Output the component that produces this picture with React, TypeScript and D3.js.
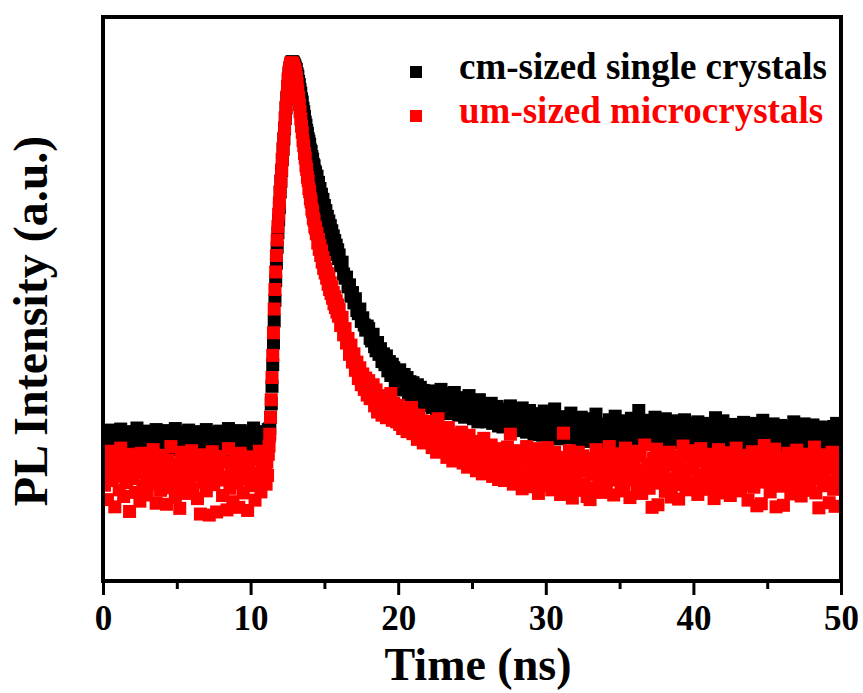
import React, { useRef, useEffect } from 'react'
import * as d3 from 'd3'

// PL decay traces, intensity in a.u. (peak ~1000)
// sampled every 0.1 ns before the pulse (0-10.9 ns), every 0.05 ns around it
// (11-15.95 ns) and every 0.1 ns in the tail (16-50 ns)
const cmPre = [
    276, 289, 262, 281, 254, 293, 270, 265, 284, 247,
    279, 268, 295, 258, 273, 286, 261, 290, 252, 277,
    266, 283, 271, 297, 256, 280, 263, 288, 244, 274,
    291, 260, 278, 269, 285, 250, 294, 267, 282, 259,
    272, 287, 248, 276, 292, 264, 281, 255, 270, 296,
    261, 284, 273, 246, 289, 266, 278, 257, 293, 268,
    283, 253, 275, 290, 262, 279, 241, 286, 271, 264,
    294, 258, 277, 282, 249, 288, 267, 273, 260, 291,
    270, 285, 243, 279, 265, 296, 256, 281, 274, 262,
    287, 251, 276, 292, 268, 259, 283, 272, 245, 289,
    266, 280, 297, 257, 274, 285, 263, 278, 290, 271
]
const cmFast = [
    278, 262, 289, 271, 294, 280, 296, 318, 344, 378,
    420, 462, 505, 545, 583, 617, 648, 676, 701, 725,
    755, 776, 797, 818, 838, 858, 878, 898, 918, 937,
    956, 972, 985, 995, 1002, 1006, 1008, 1008, 1006, 1003,
    1000, 996, 993, 985, 980, 970, 964, 954, 947, 936,
    930, 918, 911, 902, 891, 885, 875, 869, 859, 854,
    848, 837, 834, 824, 819, 809, 806, 796, 793, 784,
    786, 770, 774, 757, 762, 744, 751, 733, 741, 722,
    729, 712, 719, 701, 708, 692, 699, 682, 690, 671,
    680, 662, 670, 652, 661, 643, 652, 634, 643, 626
]
const cmPost = [
    633, 612, 619, 596, 588, 590, 571, 575, 553, 560,
    540, 548, 525, 519, 528, 504, 511, 497, 487, 495,
    490, 471, 466, 479, 455, 447, 463, 440, 451, 426,
    441, 420, 437, 408, 426, 399, 421, 414, 389, 407,
    384, 410, 392, 371, 401, 378, 395, 362, 387, 380,
    385, 357, 364, 381, 349, 376, 355, 370, 342, 368,
    341, 369, 352, 337, 366, 358, 333, 361, 348, 372,
    357, 328, 350, 364, 339, 325, 355, 343, 366, 331,
    349, 322, 341, 356, 330, 318, 347, 336, 360, 324,
    338, 315, 344, 327, 309, 352, 320, 335, 312, 341,
    309, 333, 322, 345, 306, 328, 315, 339, 301, 324,
    326, 299, 318, 334, 305, 312, 340, 296, 321, 309,
    318, 292, 327, 305, 336, 298, 313, 289, 322, 331,
    296, 318, 284, 309, 325, 292, 314, 301, 283, 330,
    312, 287, 306, 321, 280, 298, 334, 291, 309, 276,
    303, 319, 285, 297, 278, 314, 292, 326, 283, 305,
    288, 310, 274, 301, 318, 283, 296, 271, 308, 292,
    315, 279, 298, 286, 324, 290, 268, 305, 282, 300,
    276, 302, 289, 313, 271, 295, 284, 320, 298, 267,
    306, 283, 297, 275, 311, 288, 264, 301, 316, 280,
    293, 270, 308, 331, 285, 299, 277, 312, 290, 272,
    304, 281, 266, 296, 318, 287, 273, 309, 292, 278,
    299, 315, 276, 290, 262, 305, 284, 297, 269, 311,
    282, 271, 300, 289, 313, 277, 294, 263, 306, 286,
    298, 274, 287, 309, 268, 292, 280, 303, 259, 295,
    285, 306, 272, 296, 281, 317, 266, 290, 302, 276,
    311, 288, 270, 299, 283, 264, 304, 279, 293, 272,
    289, 301, 276, 266, 308, 285, 295, 262, 297, 280,
    270, 293, 306, 281, 261, 299, 287, 312, 274, 290,
    284, 265, 296, 278, 305, 288, 259, 293, 276, 302,
    268, 291, 282, 300, 263, 287, 295, 272, 309, 279,
    293, 276, 262, 298, 284, 305, 270, 289, 266, 296,
    281, 303, 272, 290, 258, 286, 299, 275, 292, 267,
    288, 271, 297, 283, 262, 300, 279, 306, 274, 291,
    284
]

const umPre = [
    221, 186, 240, 158, 207, 252, 195, 229, 144, 213,
    236, 177, 258, 203, 164, 225, 191, 246, 135, 218,
    199, 243, 172, 230, 211, 155, 248, 184, 222, 206,
    167, 237, 214, 189, 255, 198, 151, 232, 208, 176,
    244, 193, 220, 149, 235, 204, 261, 181, 216, 162,
    227, 197, 141, 250, 210, 183, 239, 170, 224, 201,
    253, 178, 215, 233, 160, 205, 130, 245, 192, 219,
    175, 238, 128, 209, 251, 187, 226, 134, 213, 196,
    242, 166, 231, 202, 138, 257, 180, 223, 154, 211,
    234, 190, 143, 248, 206, 171, 228, 199, 137, 217,
    185, 241, 209, 157, 236, 194, 252, 173, 220, 203
]
const umFast = [
    212, 188, 231, 205, 246, 262, 285, 318, 352, 395,
    438, 482, 528, 566, 600, 632, 662, 688, 712, 734,
    756, 777, 798, 819, 840, 860, 880, 900, 920, 940,
    960, 976, 988, 997, 1003, 1006, 1006, 1004, 1001, 997,
    993, 987, 978, 966, 953, 939, 925, 911, 897, 883,
    871, 855, 845, 830, 821, 806, 799, 784, 777, 762,
    756, 742, 736, 722, 717, 704, 700, 688, 685, 674,
    675, 656, 663, 644, 651, 632, 641, 619, 628, 607,
    618, 598, 606, 588, 597, 576, 590, 566, 579, 558,
    571, 549, 560, 538, 552, 531, 544, 522, 536, 514
]
const umPost = [
    527, 496, 512, 478, 490, 462, 471, 440, 458, 425,
    441, 409, 425, 393, 414, 381, 402, 372, 394, 361,
    389, 354, 366, 381, 340, 371, 328, 360, 349, 322,
    358, 331, 317, 352, 340, 364, 312, 345, 326, 309,
    341, 304, 327, 296, 335, 318, 290, 329, 306, 337,
    286, 319, 301, 275, 322, 295, 311, 268, 305, 289,
    310, 271, 296, 259, 302, 283, 250, 315, 277, 293,
    255, 289, 266, 240, 298, 261, 279, 233, 284, 250,
    276, 236, 262, 289, 229, 255, 270, 221, 283, 247,
    226, 262, 240, 214, 271, 235, 252, 208, 277, 230,
    249, 211, 236, 264, 203, 241, 222, 257, 197, 233,
    214, 246, 195, 231, 260, 206, 285, 223, 188, 240,
    227, 198, 253, 212, 179, 238, 205, 261, 191, 224,
    244, 183, 219, 257, 201, 170, 232, 210, 248, 186,
    222, 259, 195, 236, 177, 214, 250, 190, 228, 204,
    168, 240, 287, 206, 231, 184, 253, 218, 161, 237,
    199, 226, 250, 176, 213, 243, 188, 220, 164, 233,
    158, 207, 238, 181, 255, 215, 192, 229, 172, 246,
    210, 184, 234, 261, 196, 223, 167, 240, 203, 218,
    247, 189, 225, 175, 258, 208, 234, 162, 219, 196,
    231, 252, 185, 214, 243, 170, 206, 264, 193, 227,
    180, 216, 143, 238, 201, 256, 148, 222, 190, 245,
    209, 174, 235, 198, 250, 163, 226, 187, 241, 212,
    159, 230, 195, 262, 208, 177, 242, 216, 185, 253,
    221, 191, 239, 168, 205, 257, 182, 233, 199, 226,
    246, 178, 213, 237, 160, 224, 194, 255, 207, 171,
    232, 200, 249, 183, 218, 166, 240, 211, 189, 258,
    197, 227, 175, 244, 209, 186, 234, 157, 221, 203,
    251, 182, 216, 146, 238, 198, 150, 229, 263, 192,
    210, 242, 173, 225, 195, 256, 144, 217, 236, 184,
    201, 147, 230, 189, 248, 212, 169, 239, 196, 223,
    254, 180, 215, 165, 233, 204, 246, 187, 221, 176,
    239, 198, 260, 171, 226, 142, 208, 245, 185, 217,
    193, 234, 152, 219, 250, 178, 145, 227, 201, 240,
    206
]

const seriesNames = ['cm-sized single crystals', 'um-sized microcrystals']
const seriesColors = ['#000000', '#ff0000']
const xTicks = [0, 10, 20, 30, 40, 50]
const xMinorTicks = [5, 15, 25, 35, 45]

const FONT = "'Times New Roman', 'Liberation Serif', serif"

const App = () => {
    const chartRef = useRef(null)

    useEffect(() => {
        const W = 863
        const H = 693
        const left = 103, right = 841, top = 17, bottom = 581
        const size = 13

        const svg = d3.select(chartRef.current)
        svg.selectAll('*').remove()
        svg.attr('width', W).attr('height', H)

        svg.append('rect').attr('width', W).attr('height', H).attr('fill', '#fff')

        const x = d3.scaleLinear().domain([0, 50]).range([left, right])
        const y = d3.scaleLinear().domain([0, 1095]).range([bottom, top])

        // time grid for each block
        const times = [
            ...cmPre.map((_, i) => i * 0.1),
            ...cmFast.map((_, i) => 11 + i * 0.05),
            ...cmPost.map((_, i) => 16 + i * 0.1)
        ]
        const series = [
            [...cmPre, ...cmFast, ...cmPost],
            [...umPre, ...umFast, ...umPost]
        ]

        svg.append('clipPath').attr('id', 'plot-clip')
            .append('rect')
            .attr('x', left).attr('y', top)
            .attr('width', right - left).attr('height', bottom - top)

        const plot = svg.append('g').attr('clip-path', 'url(#plot-clip)')

        series.forEach((values, s) => {
            plot.append('g')
                .selectAll('rect')
                .data(d3.zip(times, values))
                .join('rect')
                .attr('x', d => x(d[0]) - size / 2)
                .attr('y', d => y(d[1]) - size / 2)
                .attr('width', size)
                .attr('height', size)
                .attr('fill', seriesColors[s])
        })

        // frame
        svg.append('rect')
            .attr('x', left).attr('y', top)
            .attr('width', right - left).attr('height', bottom - top)
            .attr('fill', 'none')
            .attr('stroke', '#000')
            .attr('stroke-width', 4)

        // x axis, major + minor ticks
        const xAxis = svg.append('g')
            .attr('transform', `translate(0,${bottom})`)
            .call(d3.axisBottom(x).tickValues(xTicks).tickSize(14).tickPadding(10).tickFormat(d3.format('d')))
        xAxis.select('.domain').remove()
        xAxis.selectAll('line').attr('stroke-width', 3)
        xAxis.selectAll('text')
            .attr('font-family', FONT)
            .attr('font-weight', 'bold')
            .attr('font-size', 35)
            .attr('fill', '#000')

        const xMinor = svg.append('g')
            .attr('transform', `translate(0,${bottom})`)
            .call(d3.axisBottom(x).tickValues(xMinorTicks).tickSize(8).tickFormat(() => ''))
        xMinor.select('.domain').remove()
        xMinor.selectAll('line').attr('stroke-width', 3)

        // axis titles
        svg.append('text')
            .attr('x', 478).attr('y', 680)
            .attr('text-anchor', 'middle')
            .attr('font-family', FONT)
            .attr('font-weight', 'bold')
            .attr('font-size', 46)
            .text('Time (ns)')

        svg.append('text')
            .attr('transform', 'translate(47,321) rotate(-90)')
            .attr('text-anchor', 'middle')
            .attr('font-family', FONT)
            .attr('font-weight', 'bold')
            .attr('font-size', 48)
            .text('PL Intensity (a.u.)')

        // legend
        const legend = svg.append('g')
        seriesNames.forEach((name, i) => {
            const cy = 72 + i * 44
            legend.append('rect')
                .attr('x', 410).attr('y', cy - 6)
                .attr('width', 12).attr('height', 12)
                .attr('fill', seriesColors[i])
            legend.append('text')
                .attr('x', 459).attr('y', cy + 7)
                .attr('font-family', FONT)
                .attr('font-weight', 'bold')
                .attr('font-size', 37)
                .attr('fill', seriesColors[i])
                .text(name)
        })
    }, [])

    return <svg ref={chartRef} style={{ position: 'absolute', left: 0, top: 0 }}></svg>
}

export default App
